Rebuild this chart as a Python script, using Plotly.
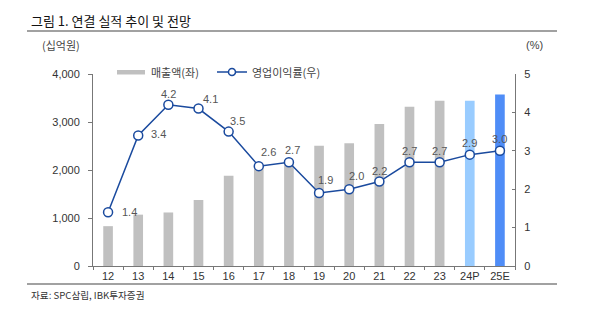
import plotly.graph_objects as go

categories = ["12", "13", "14", "15", "16", "17", "18", "19", "20", "21", "22", "23", "24P", "25E"]
sales = [830, 1070, 1115, 1375, 1880, 2100, 2150, 2505, 2555, 2960, 3320, 3445, 3445, 3575]
margin = [1.4, 3.4, 4.2, 4.1, 3.5, 2.6, 2.7, 1.9, 2.0, 2.2, 2.7, 2.7, 2.9, 3.0]
left_ticks = [0, 1000, 2000, 3000, 4000]
right_ticks = [0, 1, 2, 3, 4, 5]

bar_colors = ["#C0C0C0"] * 12 + ["#99CCFF", "#4F8DF7"]
# label offsets in pixels (dx, dy up)
label_dx = [21, 20, 0, 12, 9, 10, 4, 6, 7, 0, 0, 0, 0, 0]
label_dy = [-1, 0, 10, 9, 10, 13, 11, 12, 12, 10, 10, 10, 11, 11]

FONT = "Liberation Sans, Arial, Noto Sans CJK KR"
KFONT = "Noto Sans CJK KR"

W, H = 613, 331
L, R, T, B = 93, 515, 74, 266

def px(x):
    return (x - L) / (R - L)

def py(y):
    return (B - y) / (B - T)

fig = go.Figure()
fig.add_trace(go.Bar(x=categories, y=sales, marker=dict(color=bar_colors, line=dict(width=0)),
                     name="매출액(좌)", showlegend=False))
fig.add_trace(go.Scatter(x=categories, y=margin, yaxis="y2", mode="lines+markers",
                         line=dict(color="#1A4A9E", width=1.5),
                         marker=dict(size=9, color="white", line=dict(color="#1A4A9E", width=1.5)),
                         cliponaxis=False, name="영업이익률(우)", showlegend=False))

axis_col = "#777777"
fig.update_layout(
    width=W, height=H,
    margin=dict(l=L, r=W - R, t=T, b=H - B, autoexpand=False),
    paper_bgcolor="white", plot_bgcolor="white",
    bargap=0.68,
    font=dict(family=FONT, size=11, color="#333333"),
    xaxis=dict(type="category", range=[-0.5, len(categories) - 0.5], showgrid=False,
               showline=True, linecolor=axis_col, linewidth=1,
               ticks="outside", tickson="boundaries", ticklen=3, tickcolor=axis_col,
               tickangle=0, automargin=False,
               tickfont=dict(size=11, color="#333333")),
    yaxis=dict(range=[0, 4000], tickvals=left_ticks, tickformat=",", showgrid=False,
               showline=True, linecolor=axis_col, linewidth=1, ticks="outside", ticklen=4,
               tickcolor=axis_col, zeroline=False, ticklabelstandoff=6, automargin=False,
               tickfont=dict(size=11, color="#333333")),
    yaxis2=dict(range=[0, 5], tickvals=right_ticks, overlaying="y", side="right", showgrid=False,
                showline=True, linecolor=axis_col, linewidth=1, ticks="inside", ticklen=3,
                tickcolor=axis_col, zeroline=False, ticklabelstandoff=6, automargin=False,
                tickfont=dict(size=11, color="#333333")),
)

shapes = [
    dict(type="line", xref="paper", yref="paper", x0=px(27), x1=px(557), y0=py(31), y1=py(31),
         line=dict(color="#444444", width=1.2)),
    dict(type="line", xref="paper", yref="paper", x0=px(27), x1=px(557), y0=py(284), y1=py(284),
         line=dict(color="#444444", width=1.2)),
    dict(type="rect", xref="paper", yref="paper", x0=px(117), x1=px(145), y0=py(74.5), y1=py(70),
         fillcolor="#C0C0C0", line=dict(width=0)),
    dict(type="line", xref="paper", yref="paper", x0=px(217), x1=px(247), y0=py(72), y1=py(72),
         line=dict(color="#1A4A9E", width=1.5)),
    dict(type="circle", xref="paper", yref="paper", x0=px(228.5), x1=px(235.5), y0=py(75.5), y1=py(68.5),
         fillcolor="white", line=dict(color="#1A4A9E", width=1.5)),
]
fig.update_layout(shapes=shapes)

ann = [
    dict(text="그림 1. 연결 실적 추이 및 전망", x=px(29), y=py(20), xanchor="left", yanchor="middle",
         font=dict(family=KFONT, size=13, color="#111111")),
    dict(text="(십억원)", x=px(40), y=py(45), xanchor="left", yanchor="middle",
         font=dict(family=KFONT, size=11, color="#444444")),
    dict(text="(%)", x=px(524), y=py(45), xanchor="left", yanchor="middle",
         font=dict(family=FONT, size=11, color="#444444")),
    dict(text="매출액(좌)", x=px(149), y=py(72), xanchor="left", yanchor="middle",
         font=dict(family=KFONT, size=11, color="#444444")),
    dict(text="영업이익률(우)", x=px(250), y=py(72), xanchor="left", yanchor="middle",
         font=dict(family=KFONT, size=11, color="#444444")),
    dict(text="자료: SPC삼립, IBK투자증권", x=px(29), y=py(295), xanchor="left", yanchor="middle",
         font=dict(family=KFONT, size=9.6, color="#333333")),
]
for a in ann:
    a.update(xref="paper", yref="paper", showarrow=False)

for i, (v, dx, dy) in enumerate(zip(margin, label_dx, label_dy)):
    ann.append(dict(text=f"{v:.1f}", x=i, y=v, xref="x", yref="y2", showarrow=False,
                    xshift=dx, yshift=dy + 1, xanchor="center", yanchor="middle",
                    font=dict(family=FONT, size=11, color="#555555")))
fig.update_layout(annotations=ann)

fig.write_html("out.html")
